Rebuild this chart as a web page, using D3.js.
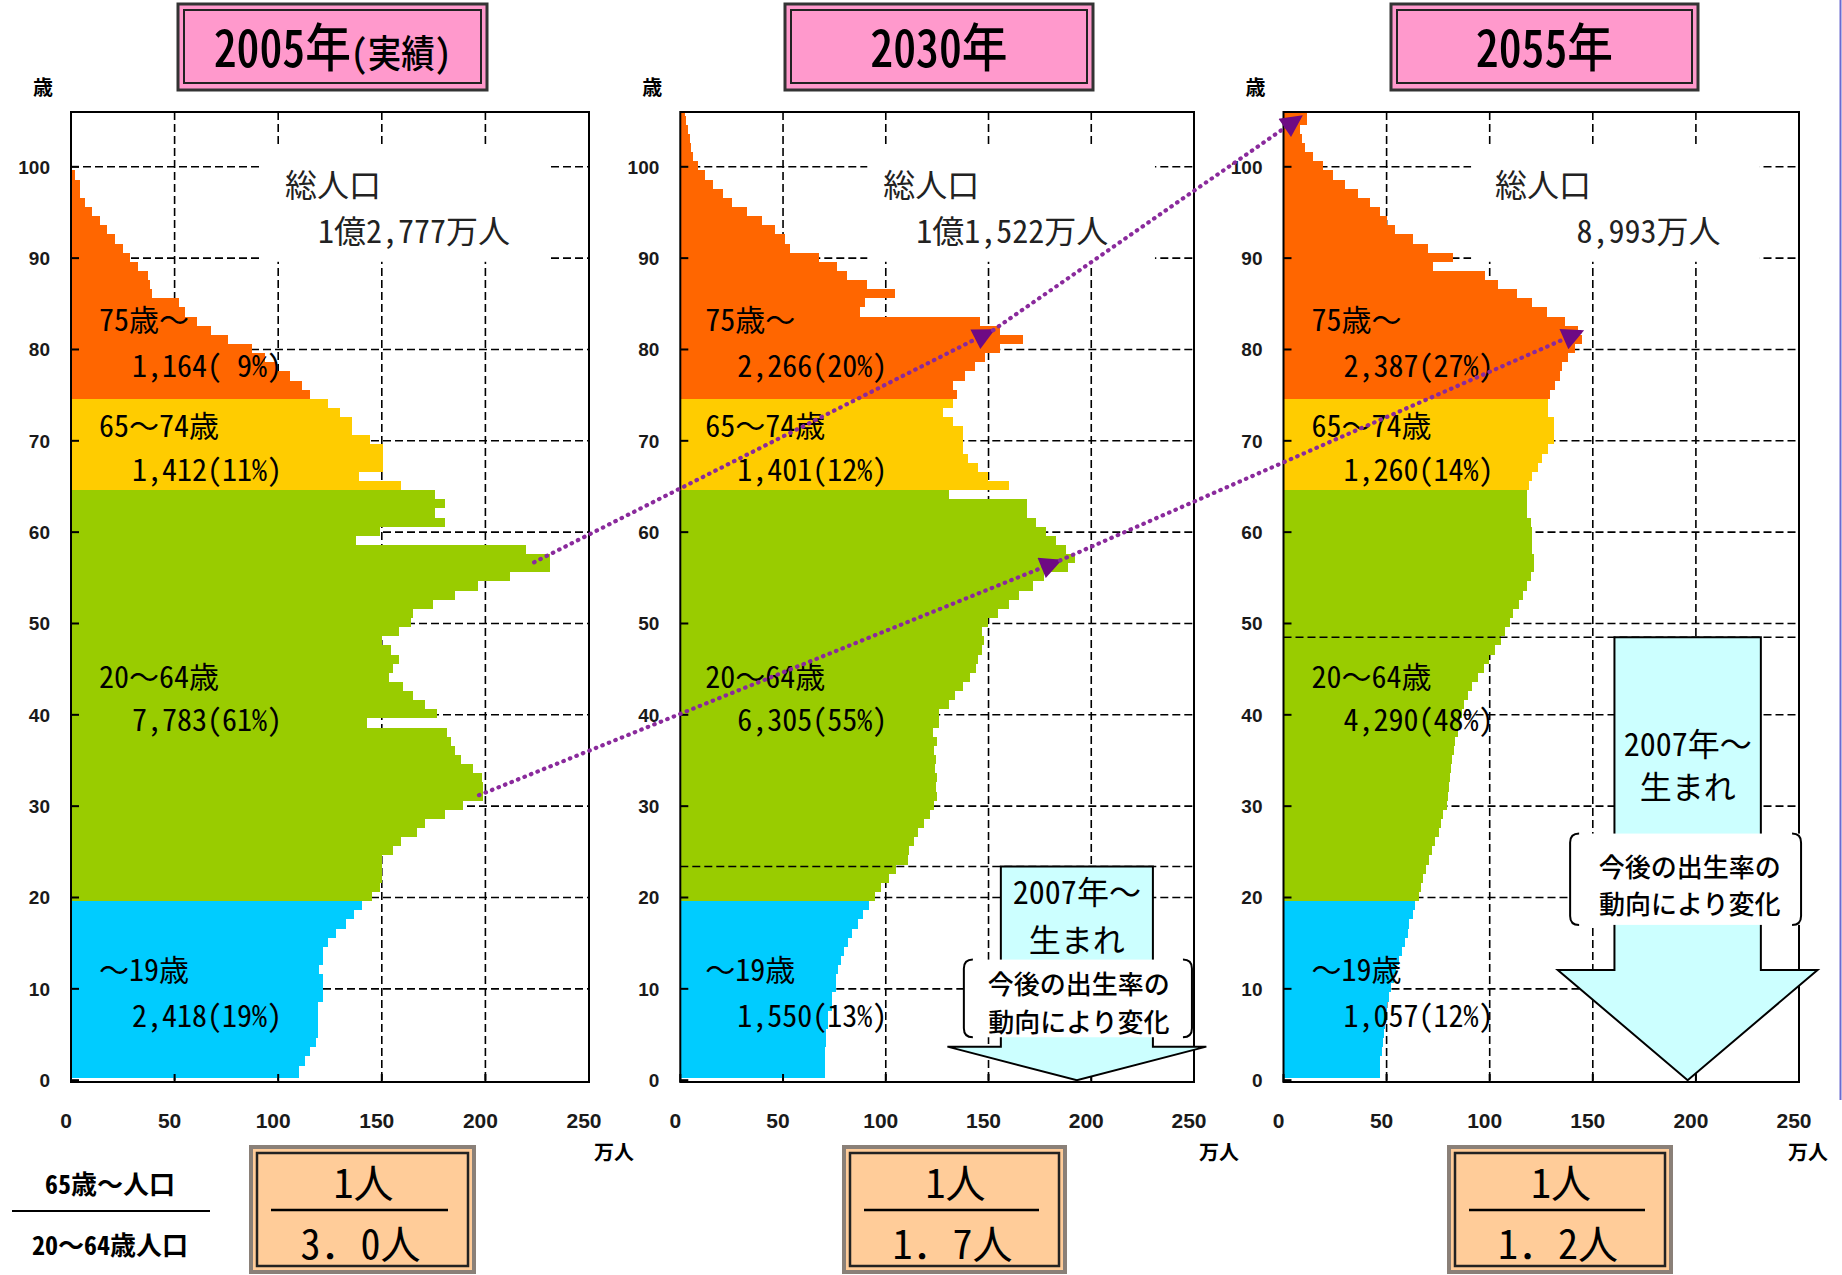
<!DOCTYPE html>
<html><head><meta charset="utf-8">
<script src="https://cdn.jsdelivr.net/npm/d3@7"></script>
<style>
body{margin:0;background:#fff;}
svg text{font-family:"Noto Sans CJK JP","Noto Sans CJK SC",sans-serif;fill:#000;white-space:pre;}
.hw{font-feature-settings:"hwid" 1;}
.num{font-family:"Liberation Sans",Arial,sans-serif;font-weight:bold;fill:#1a1a1a;}
</style></head><body>
<svg id="c" width="1842" height="1275" xmlns="http://www.w3.org/2000/svg"></svg>
<script>
// ---------------- data ----------------
const ages = d3.range(0, 107);
const pop2005 = [109.8,109.8,112.7,115.5,118.4,119.4,119.4,119.4,119.4,121.8,
 121.8,121.8,119.9,121.8,121.8,124.1,127.9,132.7,136.5,140.3,
 145.1,148.9,149.9,149.9,149.9,155.6,159.4,167.1,170.9,180.4,
 189.0,198.9,198.9,198.5,193.8,188.0,185.2,183.3,181.4,142.8,
 176.6,170.9,165.2,160.4,153.7,155.6,158.5,154.6,149.9,158.5,
 164.2,165.2,174.7,185.2,196.6,211.9,231.0,231.0,219.5,137.5,
 148.9,180.4,175.6,180.4,175.6,159.4,139.0,150.8,150.8,150.8,
 144.2,135.6,135.6,129.8,124.1,115.4,111.5,105.8,99.5,93.5,
 87.2,76.0,67.5,61.0,55.0,52.0,39.0,38.0,37.3,32.5,
 28.5,25.3,21.2,17.2,14.0,10.0,6.8,4.3,4.3,2.0,
 0,0,0,0,0,0,0];
const pop2030 = [70.2,70.2,70.2,70.2,71.1,71.1,72.1,72.1,74.0,74.0,
 75.9,75.9,76.8,78.3,79.6,81.5,83.4,86.3,89.1,92.0,
 94.8,97.6,101.4,105.2,111.0,111.5,113.7,115.6,118.4,121.3,
 123.7,125.1,124.5,125.0,124.0,124.5,123.5,125.0,123.2,126.0,
 126.0,130.7,133.6,137.4,141.2,144.0,145.0,146.8,147.8,146.8,
 149.7,154.4,160.1,164.8,171.5,177.1,188.5,192.3,187.5,182.8,
 178.1,173.3,168.6,168.6,130.7,160.1,149.7,145.0,140.2,137.4,
 137.4,137.4,132.6,127.9,132.6,134.5,132.9,138.5,143.4,148.3,
 155.6,166.9,155.6,145.8,87.4,89.9,104.5,90.7,81.0,76.1,
 67.6,53.4,51.0,46.1,39.6,32.3,25.0,20.9,16.1,12.0,
 8.8,6.3,5.0,4.5,3.9,2.8,2.3];
const pop2055 = [46.9,46.9,46.9,47.9,48.2,48.8,49.2,49.8,50.3,51.3,
 52.2,53.5,54.5,55.8,57.3,58.7,60.2,61.1,63.0,63.9,
 65.8,66.8,67.7,69.3,70.6,72.1,73.4,75.3,76.3,77.2,
 79.1,79.8,80.3,80.6,81.0,81.9,82.9,83.4,84.8,85.7,
 86.7,87.6,89.5,91.4,94.2,97.1,99.9,102.8,105.6,107.5,
 109.9,111.3,114.1,116.0,117.9,119.8,121.3,121.3,120.7,120.7,
 120.7,119.8,117.9,117.9,117.9,118.9,120.7,123.6,125.5,128.3,
 131.2,131.2,131.2,128.3,128.3,129.3,131.7,134.1,134.9,138.1,
 141.4,144.6,143.0,136.5,127.6,120.4,113.1,104.2,97.7,72.7,
 82.4,70.2,63.0,54.1,50.0,46.8,41.9,36.3,29.8,23.9,
 19.3,14.5,10.4,9.0,8.0,11.2,11.2];
const populations = [pop2005, pop2030, pop2055];

const titleYears = ["2005", "2030", "2055"];
const titleNotes = ["(実績)", "", ""];
const totalLabels = ["1億2,777万人", "1億1,522万人", "8,993万人"];
const groupNames = ["75歳〜", "65〜74歳", "20〜64歳", "〜19歳"];
const groupRanges = [[75, 106], [65, 74], [20, 64], [0, 19]];
const groupColors = ["#FF6600", "#FFCC00", "#99CC00", "#00CCFF"];
const groupValues = [
  ["1,164( 9%)", "1,412(11%)", "7,783(61%)", "2,418(19%)"],
  ["2,266(20%)", "1,401(12%)", "6,305(55%)", "1,550(13%)"],
  ["2,387(27%)", "1,260(14%)", "4,290(48%)", "1,057(12%)"]
];
const supportRatio = ["3．0人", "1．7人", "1．2人"];
const ratioLabelTop = "65歳〜人口";
const ratioLabelBottom = "20〜64歳人口";
const xTicks = [0, 50, 100, 150, 200, 250];
const yTicks = d3.range(0, 101, 10);
const birthYearNote = ["2007年〜", "生まれ"];
const birthNote = ["今後の出生率の", "動向により変化"];
// cohorts of 2007+ births: panel, boundary age
const birthBoundaryAge = [null, 23.4, 48.5];
// cohort tracking arrows: [panel, value(万人), age]
const cohortArrows = [
  {from: [0, 223.5, 56.7], to: [1, 152.2, 82.1]},
  {from: [1, 152.2, 82.1], to: [2, 8.5, 105.5]},
  {from: [0, 196.9, 31.2], to: [1, 184.8, 56.9]},
  {from: [1, 184.8, 56.9], to: [2, 144.8, 82.0]}
];

// ---------------- layout ----------------
const W = 1842, H = 1275;
const panelRange = [[71, 589], [680.3, 1194], [1283.5, 1799]];
const titleBox = [[178, 487], [785, 1093], [1391, 1698]];
const ratioBox = [[251, 474], [844, 1065], [1449, 1671]];
const totalPos = [[214, 439], [203, 428], [211.5, 437]];
const groupLabelX = [[28, 61], [25, 57], [28, 60]];
const groupLabelY = [[318, 364], [424, 468], [675, 718], [968, 1014]];
const unitX = [594, 1199, 1788];
const birthArrowGeom = [null,
  {cv: 193, hw: 37, top: 23.4, headTop: 3.67, hhw: 63, tip: 0.0,
   note: [138, 249, 13.2, 4.7], noteY: [10.8, 6.6], textY: [20.8, 15.6]},
  {cv: 196, hw: 35.5, top: 48.5, headTop: 12.06, hhw: 63, tip: 0.0,
   note: [139, 251, 27.0, 17.0], noteY: [23.6, 19.5], textY: [37.0, 32.3]}
];

const svg = d3.select("#c");
const defs = svg.append("defs");
defs.append("marker").attr("id", "ah").attr("viewBox", "0 0 10 10")
  .attr("refX", 9).attr("refY", 5).attr("markerWidth", 26).attr("markerHeight", 22)
  .attr("markerUnits", "userSpaceOnUse").attr("orient", "auto")
  .append("path").attr("d", "M0,0L10,5L0,10z").attr("fill", "#6e0a84");

svg.append("rect").attr("width", W).attr("height", H).attr("fill", "#fff");

function txt(g, x, y, str, o) {
  o = o || {};
  const t = g.append("text")
    .attr("font-size", o.size || 20)
    .attr("text-anchor", o.anchor || "start");
  if (o.sx) t.attr("transform", `translate(${x},${y}) scale(${o.sx},1)`);
  else t.attr("x", x).attr("y", y);
  if (o.central !== false) t.attr("dominant-baseline", "central");
  if (o.weight) t.attr("font-weight", o.weight);
  if (o.cls) t.attr("class", o.cls);
  if (o.fill) t.style("fill", o.fill);
  str.split(/([\x20-\x7E]+)/).filter(s => s.length).forEach(s => {
    const ts = t.append("tspan").text(s);
    if (/^[\x20-\x7E]+$/.test(s)) ts.attr("class", "hw");
  });
  return t;
}

const y = d3.scaleLinear().domain([-0.2, 106]).range([1082, 112]);
const xs = panelRange.map(r => d3.scaleLinear().domain([0, 250]).range(r));
const colorFor = a => groupColors[groupRanges.findIndex(r => a >= r[0] && a <= r[1])];

populations.forEach((data, i) => {
  const x = xs[i];
  const g = svg.append("g");
  const dash = "8,4";
  // grid
  g.selectAll(".vg").data(xTicks.filter(t => t > 0 && t < 250)).join("line")
    .attr("x1", d => x(d)).attr("x2", d => x(d))
    .attr("y1", y(106)).attr("y2", y(-0.2))
    .attr("stroke", "#000").attr("stroke-width", 1.6).attr("stroke-dasharray", dash);
  g.selectAll(".hg").data(yTicks.filter(t => t > 0)).join("line")
    .attr("x1", x(0)).attr("x2", x(250))
    .attr("y1", d => y(d)).attr("y2", d => y(d))
    .attr("stroke", "#000").attr("stroke-width", 1.6).attr("stroke-dasharray", dash);
  // white area behind total label
  g.append("rect").attr("x", x(91)).attr("y", y(102.2))
    .attr("width", x(231) - x(91)).attr("height", y(89.6) - y(102.2)).attr("fill", "#fff");
  // bars
  const rows = ages.map(a => ({age: a, v: data[a]})).filter(d => d.v > 0);
  g.selectAll(".bar").data(rows).join("rect")
    .attr("shape-rendering", "crispEdges")
    .attr("x", x(0))
    .attr("y", d => Math.round(y(Math.min(d.age + 0.6, 106))))
    .attr("height", d => Math.round(y(Math.max(d.age - 0.4, 0.25))) - Math.round(y(Math.min(d.age + 0.6, 106))))
    .attr("width", d => x(d.v) - x(0))
    .attr("fill", d => colorFor(d.age));
  // birth cohort boundary (2007-)
  if (birthBoundaryAge[i] !== null) {
    g.append("line").attr("x1", x(0)).attr("x2", x(250))
      .attr("y1", y(birthBoundaryAge[i])).attr("y2", y(birthBoundaryAge[i]))
      .attr("stroke", "#000").attr("stroke-width", 1.6).attr("stroke-dasharray", dash);
  }
  // frame
  g.append("rect").attr("x", x(0)).attr("y", y(106))
    .attr("width", x(250) - x(0)).attr("height", y(-0.2) - y(106))
    .attr("fill", "none").attr("stroke", "#000").attr("stroke-width", 2);
  g.selectAll(".yt").data(yTicks).join("line")
    .attr("x1", x(0)).attr("x2", x(0) + 8).attr("y1", d => y(d)).attr("y2", d => y(d))
    .attr("stroke", "#000").attr("stroke-width", 2);
  g.selectAll(".xt").data(xTicks).join("line")
    .attr("x1", d => x(d)).attr("x2", d => x(d)).attr("y1", y(-0.2)).attr("y2", y(-0.2) - 8)
    .attr("stroke", "#000").attr("stroke-width", 2);
  // tick labels
  yTicks.forEach(t => txt(g, x(0) - 21, y(t), String(t), {size: 19, anchor: "end", cls: "num"}));
  xTicks.forEach(t => txt(g, x(t) - 5, 1120, String(t), {size: 21, anchor: "middle", cls: "num"}));
  txt(g, x(0) - 28, 86, "歳", {size: 20, anchor: "middle", weight: "bold"});
  txt(g, unitX[i], 1151, "万人", {size: 20, weight: "bold"});

  // 2007- births arrow
  const ba = birthArrowGeom[i];
  if (ba) {
    const cx = x(ba.cv), hw = x(ba.cv + ba.hw) - cx, hhw = x(ba.cv + ba.hhw) - cx;
    const pts = [[cx - hw, y(ba.top)], [cx + hw, y(ba.top)], [cx + hw, y(ba.headTop)],
      [cx + hhw, y(ba.headTop)], [cx, y(ba.tip)], [cx - hhw, y(ba.headTop)], [cx - hw, y(ba.headTop)]];
    g.append("path").attr("d", "M" + pts.map(p => p.join(",")).join("L") + "Z")
      .attr("fill", "#CCFFFF").attr("stroke", "#000").attr("stroke-width", 2).attr("stroke-linejoin", "miter");
    txt(g, cx, y(ba.textY[0]), birthYearNote[0], {size: 32, anchor: "middle"});
    txt(g, cx, y(ba.textY[1]), birthYearNote[1], {size: 32, anchor: "middle"});
    const n = ba.note, x0 = x(n[0]), x1 = x(n[1]), y0 = y(n[2]), y1 = y(n[3]), r = 9;
    g.append("rect").attr("x", x0).attr("y", y0).attr("width", x1 - x0).attr("height", y1 - y0).attr("fill", "#fff");
    g.append("path").attr("d",
      `M${x0 + r},${y0}Q${x0},${y0} ${x0},${y0 + r}L${x0},${y1 - r}Q${x0},${y1} ${x0 + r},${y1}` +
      `M${x1 - r},${y0}Q${x1},${y0} ${x1},${y0 + r}L${x1},${y1 - r}Q${x1},${y1} ${x1 - r},${y1}`)
      .attr("fill", "none").attr("stroke", "#000").attr("stroke-width", 2);
    txt(g, cx + 2, y(ba.noteY[0]), birthNote[0], {size: 26, anchor: "middle", weight: 500});
    txt(g, cx + 2, y(ba.noteY[1]), birthNote[1], {size: 26, anchor: "middle", weight: 500});
  }

  // group labels
  groupNames.forEach((nm, k) => {
    txt(g, x(0) + groupLabelX[i][0], groupLabelY[k][0], nm, {size: 30});
    txt(g, x(0) + groupLabelX[i][1], groupLabelY[k][1], groupValues[i][k], {size: 30});
  });
  // total population
  txt(g, x(0) + totalPos[i][0], 183, "総人口", {size: 32, fill: "#222"});
  txt(g, x(0) + totalPos[i][1], 229, totalLabels[i], {size: 32, anchor: "end", fill: "#222"});

  // title box
  const tb = titleBox[i];
  g.append("rect").attr("x", tb[0]).attr("y", 4).attr("width", tb[1] - tb[0]).attr("height", 86)
    .attr("fill", "#FF99CC").attr("stroke", "#333").attr("stroke-width", 3);
  g.append("rect").attr("x", tb[0] + 6).attr("y", 10).attr("width", tb[1] - tb[0] - 12).attr("height", 73)
    .attr("fill", "none").attr("stroke", "#222").attr("stroke-width", 2);
  const tcx = (tb[0] + tb[1]) / 2;
  const tt = g.append("text").attr("text-anchor", "middle").attr("font-weight", 500)
    .attr("transform", `translate(${tcx},67) scale(0.88,1)`);
  tt.append("tspan").attr("class", "hw").attr("font-size", 52).text(titleYears[i]);
  tt.append("tspan").attr("font-size", 52).text("年");
  if (titleNotes[i]) {
    tt.append("tspan").attr("class", "hw").attr("font-size", 38).text("(");
    tt.append("tspan").attr("font-size", 38).text(titleNotes[i].slice(1, -1));
    tt.append("tspan").attr("class", "hw").attr("font-size", 38).text(")");
  }

  // support ratio box
  const rb = ratioBox[i];
  g.append("rect").attr("x", rb[0]).attr("y", 1147).attr("width", rb[1] - rb[0]).attr("height", 125)
    .attr("fill", "#FFCC99").attr("stroke", "#8a8078").attr("stroke-width", 4);
  g.append("rect").attr("x", rb[0] + 6).attr("y", 1153).attr("width", rb[1] - rb[0] - 12).attr("height", 113)
    .attr("fill", "none").attr("stroke", "#222").attr("stroke-width", 2.5);
  const rcx = (rb[0] + rb[1]) / 2;
  g.append("line").attr("x1", rb[0] + 20).attr("x2", rb[1] - 26).attr("y1", 1210).attr("y2", 1210)
    .attr("stroke", "#000").attr("stroke-width", 2.5);
  txt(g, rcx + 1, 1181, "1人", {size: 40, anchor: "middle"});
  txt(g, rcx - 2, 1242, supportRatio[i], {size: 40, anchor: "middle"});
});

// ratio label at left
txt(svg, 110, 1182, ratioLabelTop, {size: 26, anchor: "middle", weight: "bold"});
svg.append("line").attr("x1", 12).attr("x2", 210).attr("y1", 1211).attr("y2", 1211)
  .attr("stroke", "#000").attr("stroke-width", 2);
txt(svg, 110, 1243, ratioLabelBottom, {size: 26, anchor: "middle", weight: "bold"});

// cohort tracking arrows
svg.selectAll(".coh").data(cohortArrows).join("line")
  .attr("x1", d => xs[d.from[0]](d.from[1])).attr("y1", d => y(d.from[2]))
  .attr("x2", d => xs[d.to[0]](d.to[1])).attr("y2", d => y(d.to[2]))
  .attr("stroke", "#8a2a9c").attr("stroke-width", 4.2)
  .attr("stroke-dasharray", "0.5,6.5").attr("stroke-linecap", "round")
  .attr("marker-end", "url(#ah)");

// right edge border line
svg.append("line").attr("x1", 1840.5).attr("x2", 1840.5).attr("y1", 0).attr("y2", 1100)
  .attr("stroke", "#6a6ad0").attr("stroke-width", 2);
</script>
</body></html>
